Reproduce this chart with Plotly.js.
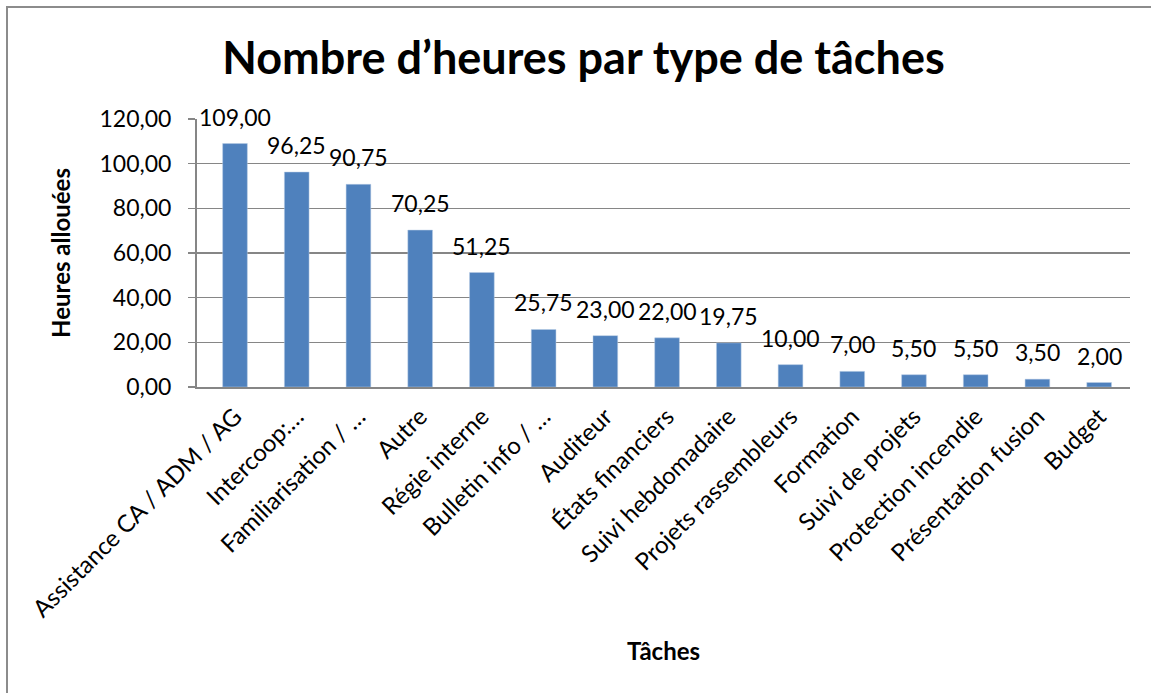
<!DOCTYPE html>
<html>
<head>
<meta charset="utf-8">
<script src="https://cdn.plot.ly/plotly-3.0.1.min.js"></script>
<style>html,body{margin:0;padding:0;background:#fff;}#chart{width:1151px;height:693px;}</style>
</head>
<body>
<div id="chart"></div>
<script>
const categories = ['Assistance CA / ADM / AG', 'Intercoop:…', 'Familiarisation / …', 'Autre', 'Régie interne', 'Bulletin info / …', 'Auditeur', 'États financiers', 'Suivi hebdomadaire', 'Projets rassembleurs', 'Formation', 'Suivi de projets', 'Protection incendie', 'Présentation fusion', 'Budget'];
const hours = [109.00, 96.25, 90.75, 70.25, 51.25, 25.75, 23.00, 22.00, 19.75, 10.00, 7.00, 5.50, 5.50, 3.50, 2.00];
const titleText = 'Nombre d’heures par type de tâches';
const yTitle = 'Heures allouées';
const xTitle = 'Tâches';

const FONT = 'Lato, "Open Sans", sans-serif';
const fmt = v => v.toFixed(2).replace('.', ',');

const trace = {
  type: 'bar',
  x: categories,
  y: hours,
  marker: {color: '#4F81BD', line: {color: '#B9CDE5', width: 0.5}},
  width: 0.4,
  hoverinfo: 'x+y'
};

const annotations = categories.map((c, i) => ({
  x: c, y: hours[i], xref: 'x', yref: 'y',
  text: fmt(hours[i]), showarrow: false,
  yanchor: 'bottom', yshift: 11,
  font: {family: FONT, size: 23, color: '#000'}
}));

const layout = {
  width: 1151, height: 693,
  margin: {l: 197, r: 21, t: 119, b: 306},
  paper_bgcolor: '#fff', plot_bgcolor: '#fff',
  separators: ', ',
  showlegend: false,
  title: {
    text: '<b>' + titleText + '</b>',
    font: {family: FONT, size: 45, color: '#000'},
    x: 583.5 / 1151, xanchor: 'center', xref: 'container',
    y: 1 - 58/693, yanchor: 'middle', yref: 'container'
  },
  xaxis: {
    type: 'category',
    tickangle: -45,
    tickfont: {family: FONT, size: 24, color: '#000'},
    showline: true, linecolor: '#868686', linewidth: 2,
    showgrid: false, ticks: '',
    automargin: false,
    ticklabelstandoff: 4,
    title: {text: '<b>' + xTitle + '</b>', font: {family: FONT, size: 24, color: '#000'}, standoff: 22}
  },
  yaxis: {
    range: [0, 120], dtick: 20, tick0: 0,
    tickformat: '.2f',
    tickfont: {family: FONT, size: 23, color: '#000'},
    showgrid: true, gridcolor: '#868686', gridwidth: 1.5,
    showline: true, linecolor: '#868686', linewidth: 2,
    ticks: 'outside', ticklen: 7, tickcolor: '#868686', tickwidth: 1.5,
    ticklabelstandoff: 12,
    zeroline: false,
    automargin: false,
    title: {text: '<b>' + yTitle + '</b>', font: {family: FONT, size: 24, color: '#000'}, standoff: 22}
  },
  annotations: annotations,
  shapes: [{
    type: 'rect', xref: 'paper', yref: 'paper',
    x0: (7 - 197) / 933, x1: (1200 - 197) / 933,
    y0: (387 - 750) / 268, y1: (387 - 7) / 268,
    line: {color: '#8C8C8C', width: 2}, fillcolor: 'rgba(0,0,0,0)', layer: 'below'
  }]
};

Plotly.newPlot('chart', [trace], layout, {displayModeBar: false, staticPlot: true});
</script>
</body>
</html>
